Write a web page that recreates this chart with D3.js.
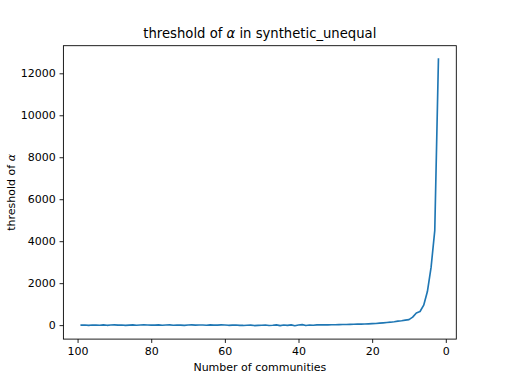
<!DOCTYPE html>
<html><head><meta charset="utf-8">
<script src="https://cdn.jsdelivr.net/npm/d3@7"></script>
<style>
body{margin:0;background:#fff;}
svg{display:block;font-family:"DejaVu Sans",sans-serif;}
</style></head>
<body><svg id="c" width="507" height="381"></svg>
<script>
const communities = [99,98,97,96,95,94,93,92,91,90,89,88,87,86,85,84,83,82,81,80,79,78,77,76,75,74,73,72,71,70,69,68,67,66,65,64,63,62,61,60,59,58,57,56,55,54,53,52,51,50,49,48,47,46,45,44,43,42,41,40,39,38,37,36,35,34,33,32,31,30,29,28,27,26,25,24,23,22,21,20,19,18,17,16,15,14,13,12,11,10,9,8,7,6,5,4,3,2];
const threshold = [
  0, 5, -10, 8, 3, -5, 12, -8, 4, 10,
  -3, 6, -12, 2, 9, -6, 4, 15, 7, -2,
  3, 10, -5, 6, 12, -4, 8, 2, -9, 5,
  11, -3, 4, 7, -6, 9, 3, -2, 10, 6,
  -8, 2, 5, -10, -15, -4, 3, -20, -12, -5,
  8, -18, -6, 10, -25, 5, -10, 12, -30, 8,
  25, -20, 4, -5, 15, 10, 18, 12, 20, 16,
  25, 30, 28, 35, 40, 45, 50, 55, 62, 70,
  80, 95, 110, 125, 140, 160, 190, 210, 240, 265,
  380, 580, 650, 950, 1600, 2750, 4500, 12680
];
const xTicks = [100, 80, 60, 40, 20, 0];
const yTicks = [0, 2000, 4000, 6000, 8000, 10000, 12000];

const svg = d3.select("#c");
const L = 63.4, R = 456.3, T = 45.7, B = 339.1;

const xe = d3.extent(communities), xs = xe[1]-xe[0];
const ye = d3.extent(threshold), ys = ye[1]-ye[0];
const x = d3.scaleLinear().domain([xe[1]+0.05*xs, xe[0]-0.05*xs]).range([L, R]);
const y = d3.scaleLinear().domain([ye[0]-0.05*ys, ye[1]+0.05*ys]).range([B, T]);

const fs = 11;
const xa = svg.append("g").attr("transform", `translate(0,${B})`)
  .call(d3.axisBottom(x).tickValues(xTicks).tickFormat(d3.format("d")).tickSize(3.85).tickPadding(3.85));
const ya = svg.append("g").attr("transform", `translate(${L},0)`)
  .call(d3.axisLeft(y).tickValues(yTicks).tickFormat(d3.format("d")).tickSize(3.85).tickPadding(3.85));
[xa, ya].forEach(a => {
  a.select(".domain").remove();
  a.selectAll(".tick line").attr("stroke", "#000").attr("stroke-width", 0.88);
  a.selectAll(".tick text").attr("fill", "#000").style("font-size", fs + "px").style("font-family", "DejaVu Sans");
});

const line = d3.line().x((d, i) => x(communities[i])).y(d => y(d));
svg.append("path").datum(threshold).attr("d", line)
  .attr("fill", "none").attr("stroke", "#1f77b4").attr("stroke-width", 1.65)
  .attr("stroke-linejoin", "round").attr("stroke-linecap", "square");

svg.append("rect").attr("x", L).attr("y", T).attr("width", R-L).attr("height", B-T)
  .attr("fill", "none").attr("stroke", "#000").attr("stroke-width", 0.88);

const title = svg.append("text").attr("x", (L+R)/2).attr("y", 38).attr("text-anchor", "middle")
  .style("font-size", "13.2px").attr("fill", "#000");
title.append("tspan").text("threshold of ");
title.append("tspan").style("font-style", "italic").text("α");
title.append("tspan").text(" in synthetic_unequal");

svg.append("text").attr("x", (L+R)/2).attr("y", 371).attr("text-anchor", "middle")
  .style("font-size", fs + "px").attr("fill", "#000").text("Number of communities");

const yl = svg.append("text").attr("transform", `translate(15,${(T+B)/2}) rotate(-90)`)
  .attr("text-anchor", "middle").style("font-size", fs + "px").attr("fill", "#000");
yl.append("tspan").text("threshold of ");
yl.append("tspan").style("font-style", "italic").text("α");
</script></body></html>
